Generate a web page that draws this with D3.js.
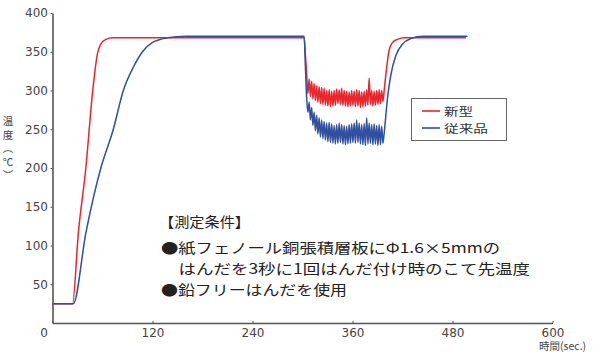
<!DOCTYPE html>
<html><head><meta charset="utf-8">
<script src="https://cdn.jsdelivr.net/npm/d3@7"></script>
<style>
html,body{margin:0;padding:0;background:#fff;}
svg{display:block;}
</style></head>
<body>
<svg id="c" width="600" height="358"></svg>
<script>
// ---- data ----
const seriesNames = ["新型", "従来品"];
const seriesColors = ["#e8262d", "#2f4f9f"];
const xTicks = [0, 120, 240, 360, 480, 600];
const yTicks = [50, 100, 150, 200, 250, 300, 350, 400];
const xTitle = "時間(sec.)";
const yTitle = "温度（℃）";
const noteLines = [
  "【測定条件】",
  "●紙フェノール銅張積層板にΦ1.6×5mmの",
  "　はんだを3秒に1回はんだ付け時のこて先温度",
  "●鉛フリーはんだを使用"
];

const redSeries = [
  [0,25],[24,25],[31,116],[40,200],[48,297],[54,348],[58,360],[64,366],[72,368],[150,368],[250,368],[302,368],[303.5,345],
  [305,322],[306.5,296],[308,315],[309.5,292],[311,312],[312.5,289],[314,309],[315.5,287],[317,306],[318.5,285],
  [320,305],[321.5,283],[323,304],[324.5,282],[326,303],[327.5,281],[329,300],[330.5,280],[332,301],[333.5,279],
  [335,299],[336.5,280],[338,300],[339.5,281],[341,302],[342.5,283],[344,301],[345.5,282],[347,303],[348.5,281],
  [350,300],[351.5,280],[353,299],[354.5,279],[356,298],[357.5,280],[359,300],[360.5,281],[362,299],[363.5,279],
  [365,301],[366.5,280],[368,300],[369.5,278],[371,298],[372.5,279],[374,299],[375.5,280],[377,301],[378.5,281],
  [380,316],[381.5,282],[383,300],[384.5,280],[386,299],[387.5,281],[389,300],[390.5,282],[392,301],[393.5,283],
  [395,300],[396.5,286],
  [398,300],[401,330],[404,352],[408,362],[414,366],[422,368],[496,368]
];
const blueSeries = [
  [0,25],[25,25],[40,116],[58,200],[73,250],[85,300],[97,330],[108,350],[120,362],[138,368],[160,370],[302,370],[303.5,330],
  [305,290],[306.5,272],[308,285],[309.5,262],[311,278],[312.5,255],[314,272],[315.5,248],[317,268],[318.5,244],
  [320,265],[321.5,240],[323,262],[324.5,238],[326,260],[327.5,236],[329,258],[330.5,234],[332,259],[333.5,233],
  [335,257],[336.5,232],[338,255],[339.5,231],[341,256],[342.5,232],[344,258],[345.5,233],[347,256],[348.5,231],
  [350,255],[351.5,230],[353,254],[354.5,231],[356,256],[357.5,232],[359,257],[360.5,233],[362,258],[363.5,232],
  [365,262],[366.5,233],[368,258],[369.5,231],[371,256],[372.5,230],[374,257],[375.5,229],[377,265],[378.5,231],
  [380,258],[381.5,232],[383,256],[384.5,230],[386,257],[387.5,231],[389,255],[390.5,229],[392,256],[393.5,230],
  [395,254],[396.5,232],
  [398,245],[402,290],[406,320],[412,345],[420,360],[430,367],[445,370],[498,370]
];
const allSeries = [redSeries, blueSeries];

// ---- chart ----
const svg = d3.select("#c");
const x = d3.scaleLinear().domain([0, 600]).range([52.5, 552.5]);
const y = d3.scaleLinear().domain([0, 400]).range([323, 13]);
const numFont = "'DejaVu Sans', sans-serif";
const jpFont = "'Noto Sans CJK JP', sans-serif";

// lines
const line = d3.line().x(d => x(d[0])).y(d => y(d[1])).curve(d3.curveMonotoneX);
allSeries.forEach((s, i) => {
  svg.append("path").datum(s)
    .attr("d", line).attr("fill", "none")
    .attr("stroke", seriesColors[i]).attr("stroke-width", 1.5)
    .attr("stroke-linejoin", "round");
});

// axes
const yAxis = d3.axisLeft(y).tickValues(yTicks).tickSize(2).tickSizeOuter(0).tickPadding(2.5);
const gy = svg.append("g").attr("transform", `translate(${x(0)},0)`).call(yAxis);
const xAxis = d3.axisBottom(x).tickValues(xTicks).tickSize(-2).tickSizeOuter(0).tickPadding(5);
const gx = svg.append("g").attr("transform", `translate(0,${y(0)})`).call(xAxis);
[gx, gy].forEach(g => {
  g.select(".domain").attr("stroke", "#555").attr("stroke-width", 1.6);
  g.selectAll(".tick line").attr("stroke", "#555");
  g.selectAll(".tick text").attr("fill", "#444").style("font-family", numFont).style("font-size", "12px");
});
gx.selectAll(".tick text").filter(d => d === 0).attr("dx", -9);

// axis titles
svg.append("text").attr("x", 539).attr("y", 350)
  .style("font-family", jpFont).style("font-size", "10.5px").attr("fill", "#444").text(xTitle);
svg.append("text").attr("x", 8).attr("y", 116)
  .style("writing-mode", "vertical-rl").style("letter-spacing", "3px")
  .style("font-family", jpFont).style("font-size", "10.5px").attr("fill", "#444").text(yTitle);

// legend
svg.append("rect").attr("x", 411.5).attr("y", 98.5).attr("width", 95).attr("height", 42)
  .attr("fill", "#fff").attr("stroke", "#666").attr("stroke-width", 1);
const legendW = [29, 44];
seriesNames.forEach((n, i) => {
  const ly = 111 + i * 17;
  svg.append("line").attr("x1", 422).attr("x2", 440).attr("y1", ly).attr("y2", ly)
    .attr("stroke", seriesColors[i]).attr("stroke-width", 1.6);
  svg.append("text").attr("x", 444).attr("y", ly).attr("dominant-baseline", "central")
    .attr("textLength", legendW[i]).attr("lengthAdjust", "spacingAndGlyphs")
    .style("font-family", jpFont).style("font-size", "11.5px").attr("fill", "#333").text(n);
});

// note
const noteY = [220.5, 247, 268, 288.5];
const noteX = [159, 161, 161, 161];
const noteW = [91, 339, 369, 186];
noteLines.forEach((t, i) => {
  svg.append("text").attr("x", noteX[i]).attr("y", noteY[i]).attr("dominant-baseline", "central")
    .attr("textLength", noteW[i]).attr("lengthAdjust", "spacingAndGlyphs")
    .style("font-family", jpFont).style("font-size", "14px").attr("fill", "#222").text(t);
});
</script>
</body></html>
